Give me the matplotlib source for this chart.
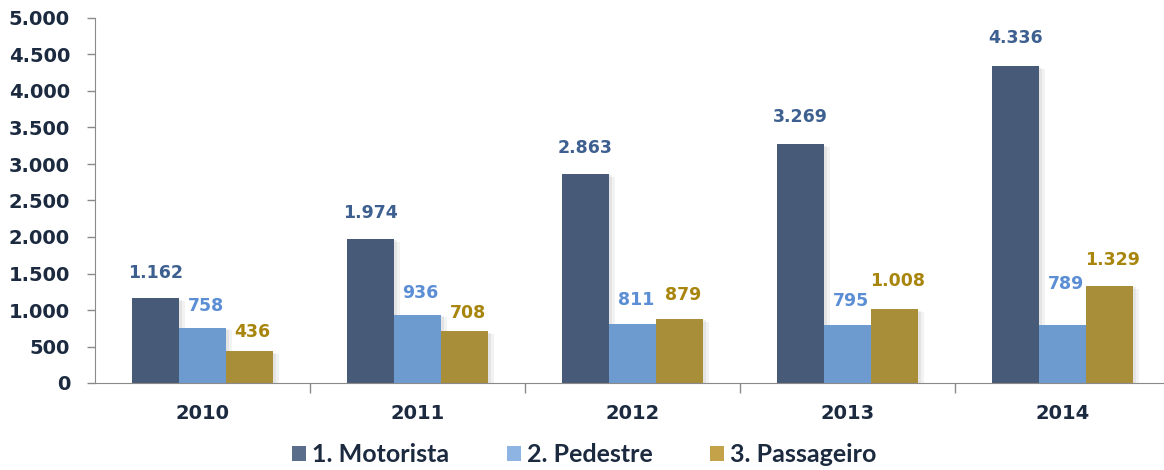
import matplotlib
matplotlib.use("Agg")
import matplotlib.pyplot as plt
import matplotlib.patheffects as pe
from matplotlib.patches import Patch
import numpy as np

years = ["2010", "2011", "2012", "2013", "2014"]
series_names = ["1. Motorista", "2. Pedestre", "3. Passageiro"]
motorista = [1162, 1974, 2863, 3269, 4336]
pedestre = [758, 936, 811, 795, 789]
passageiro = [436, 708, 879, 1008, 1329]
yticks = [0, 500, 1000, 1500, 2000, 2500, 3000, 3500, 4000, 4500, 5000]

bar_colors = ["#475A78", "#6E9BCF", "#A98E39"]
label_colors = ["#3D6090", "#5B8ED4", "#A8850C"]
legend_colors = ["#5A6E8C", "#8DB4E2", "#C4A24A"]
tick_color = "#1C2A40"
# label vertical offsets (points) per series and year
label_offsets = [
    [12, 12, 12, 13, 14],
    [9, 9, 11, 11, 23],
    [7, 7, 11, 14, 12],
]

def fmt(v):
    return f"{v:,}".replace(",", ".")

fig = plt.figure(figsize=(11.64, 4.70), dpi=100)
ax = fig.add_axes([95 / 1164, 1 - 383 / 470, 1075 / 1164, 365 / 470])

x = np.arange(len(years))
w = 0.219
data = [motorista, pedestre, passageiro]
offsets = [-w, 0, w]
shadow = [pe.SimplePatchShadow(offset=(4, -2), shadow_rgbFace="#999999", alpha=0.12),
          pe.SimplePatchShadow(offset=(2, -1), shadow_rgbFace="#999999", alpha=0.15),
          pe.Normal()]
for i, (vals, off) in enumerate(zip(data, offsets)):
    bars = ax.bar(x + off, vals, width=w, color=bar_colors[i], zorder=2,
                  label=series_names[i])
    for b in bars:
        b.set_path_effects(shadow)
    for j, (xi, v) in enumerate(zip(x, vals)):
        ax.annotate(fmt(v), (xi + off + (0.015 if i > 0 else 0), v),
                    xytext=(0, label_offsets[i][j]),
                    textcoords="offset points", ha="center", va="bottom",
                    fontsize=12.5, fontweight="bold", color=label_colors[i],
                    family="DejaVu Sans")

ax.set_xlim(-0.5, len(years) - 0.5)
ax.set_ylim(0, 5000)
ax.set_yticks(yticks)
ax.set_yticklabels([fmt(v) for v in yticks], fontsize=14, fontweight="bold",
                   color=tick_color, family="DejaVu Sans")
ax.set_xticks(x)
ax.set_xticklabels(years, fontsize=14, fontweight="bold", color=tick_color,
                   family="DejaVu Sans")
ax.set_xticks(np.arange(len(years)) + 0.5, minor=True)
ax.tick_params(axis="x", which="major", length=0, pad=15)
ax.tick_params(axis="x", which="minor", length=7, color="#8A8A8A", width=1)
ax.tick_params(axis="y", length=6, color="#8A8A8A", width=1, pad=12)

for s in ["top", "right"]:
    ax.spines[s].set_visible(False)
ax.spines["left"].set_color("#8A8A8A")
ax.spines["bottom"].set_color("#8A8A8A")
ax.spines["left"].set_bounds(0, 5000)

handles = [Patch(facecolor=c, edgecolor="none") for c in legend_colors]
leg = fig.legend(handles, series_names, loc="center", bbox_to_anchor=(0.502, 0.032),
                 ncol=3, frameon=False, handlelength=0.55, handleheight=0.55,
                 handletextpad=0.25, columnspacing=2.3, borderpad=0, borderaxespad=0,
                 prop={"family": "Lato", "weight": "bold", "size": 18})
for t in leg.get_texts():
    t.set_color(tick_color)

fig.savefig("out.png", dpi=100)
